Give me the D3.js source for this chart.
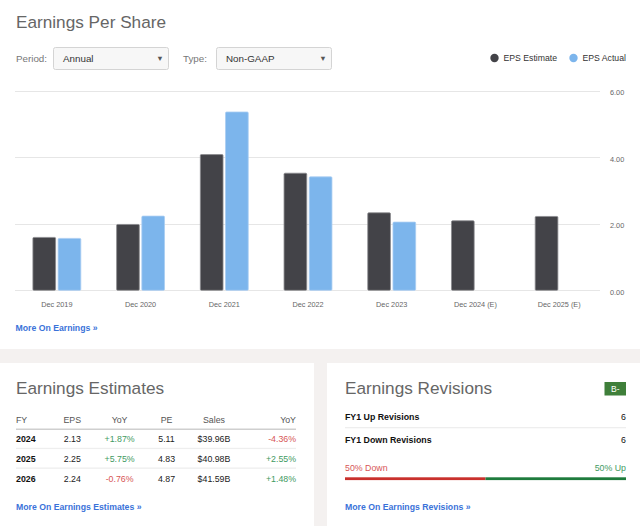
<!DOCTYPE html>
<html>
<head>
<meta charset="utf-8">
<script src="https://cdn.jsdelivr.net/npm/d3@7"></script>
<style>
	body { margin: 0; background: #f4f1f0; }
	svg { display: block; font-family: "Liberation Sans", Arial, sans-serif; }
</style>
</head>
<body>
<div id="page"></div>
<script>
// chart data
const categories = ['Dec 2019', 'Dec 2020', 'Dec 2021', 'Dec 2022', 'Dec 2023', 'Dec 2024 (E)', 'Dec 2025 (E)'];
const epsEstimate = [1.59, 1.98, 4.08, 3.52, 2.33, 2.09, 2.22];
const epsActual = [1.56, 2.23, 5.36, 3.41, 2.05, null, null];
const yTicks = [0, 2, 4, 6];

// estimates table
const estHeaders = ['FY', 'EPS', 'YoY', 'PE', 'Sales', 'YoY'];
const estYears = ['2024', '2025', '2026'];
const estEps = ['2.13', '2.25', '2.24'];
const estEpsYoy = ['+1.87%', '+5.75%', '-0.76%'];
const estPe = ['5.11', '4.83', '4.87'];
const estSales = ['$39.96B', '$40.98B', '$41.59B'];
const estSalesYoy = ['-4.36%', '+2.55%', '+1.48%'];

// revisions
const revisionLabels = ['FY1 Up Revisions', 'FY1 Down Revisions'];
const revisionCounts = [6, 6];
const revisionShare = [50, 50]; // down, up

(() => {
	const W = 640, H = 526;
	const svg = d3.select('#page').append('svg')
		.attr('width', W)
		.attr('height', H);

	const green = '#3f9a62', red = '#d75656', link = '#3a72d9';

	// cards
	svg.append('rect').attr('width', W).attr('height', H).attr('fill', '#f4f1f0');
	svg.append('rect').attr('x', 0).attr('y', 0).attr('width', W).attr('height', 349).attr('fill', '#fff');
	svg.append('rect').attr('x', 0).attr('y', 363).attr('width', 314).attr('height', H - 363).attr('fill', '#fff');
	svg.append('rect').attr('x', 327).attr('y', 363).attr('width', W - 327).attr('height', H - 363).attr('fill', '#fff');

	const title = (x, y, t) => svg.append('text')
		.attr('x', x).attr('y', y)
		.attr('font-size', 17.2)
		.attr('fill', '#666')
		.text(t);

	title(16, 28, 'Earnings Per Share');

	// dropdowns
	const dropdown = (lx, label, bx, bw, value) => {
		svg.append('text').attr('x', lx).attr('y', 61.5)
			.attr('font-size', 9.8).attr('fill', '#777').text(label);
		svg.append('rect').attr('x', bx + 0.5).attr('y', 47.5)
			.attr('width', bw).attr('height', 22).attr('rx', 2)
			.attr('fill', '#f7f7f7').attr('stroke', '#d4d4d4');
		svg.append('text').attr('x', bx + 10).attr('y', 61.5)
			.attr('font-size', 9.8).attr('fill', '#333').text(value);
		svg.append('text').attr('x', bx + bw - 8).attr('y', 61)
			.attr('text-anchor', 'middle').attr('font-size', 7.5)
			.attr('fill', '#555').text('▼');
	};
	dropdown(16, 'Period:', 53, 115, 'Annual');
	dropdown(183, 'Type:', 216, 115, 'Non-GAAP');

	// legend
	const legend = [
		{ name: 'EPS Estimate', color: '#434348', x: 494.5 },
		{ name: 'EPS Actual', color: '#7cb5ec', x: 573.5 }
	];
	legend.forEach(l => {
		svg.append('circle').attr('cx', l.x).attr('cy', 58).attr('r', 4.2).attr('fill', l.color);
		svg.append('text').attr('x', l.x + 9).attr('y', 61)
			.attr('font-size', 8.7).attr('fill', '#333').text(l.name);
	});

	// scales
	const x0 = d3.scaleBand().domain(categories).range([15, 601]);
	const x1 = d3.scaleBand().domain(['est', 'act'])
		.range([0, x0.bandwidth()])
		.paddingInner(0.1)
		.paddingOuter(0.71);
	const y = d3.scaleLinear().domain([0, 6]).range([290.3, 90.7]);

	const chart = svg.append('g');

	// grid + y labels
	chart.selectAll('.grid')
		.data(yTicks)
		.enter().append('line')
			.attr('x1', 15).attr('x2', 600)
			.attr('y1', d => Math.round(y(d)) + 0.5)
			.attr('y2', d => Math.round(y(d)) + 0.5)
			.attr('stroke', '#e6e6e6');
	chart.selectAll('.ylab')
		.data(yTicks)
		.enter().append('text')
			.attr('x', 610)
			.attr('y', d => y(d) + 4.5)
			.attr('font-size', 7.3)
			.attr('fill', '#666')
			.text(d => d3.format('.2f')(d));

	// bars
	const rows = categories.map((c, i) => ({ cat: c, est: epsEstimate[i], act: epsActual[i] }));
	const series = [
		{ key: 'est', color: '#434348', stroke: '#8a8a8e' },
		{ key: 'act', color: '#7cb5ec', stroke: '#a9cdf2' }
	];
	series.forEach(s => {
		chart.selectAll('.bar-' + s.key)
			.data(rows.filter(d => d[s.key] != null))
			.enter().append('rect')
				.attr('class', 'bar-' + s.key)
				.attr('x', d => x0(d.cat) + x1(s.key))
				.attr('y', d => y(d[s.key]))
				.attr('width', x1.bandwidth())
				.attr('height', d => y(0) - y(d[s.key]))
				.attr('rx', 1)
				.attr('fill', s.color)
				.attr('stroke', s.stroke)
				.attr('stroke-width', 0.8);
	});

	// x labels
	const xAxis = d3.axisBottom(x0).tickSize(0).tickPadding(0);
	const xg = chart.append('g')
		.attr('transform', 'translate(0, 302)')
		.call(xAxis);
	xg.select('.domain').remove();
	xg.selectAll('text')
		.attr('font-size', 7.3)
		.attr('font-family', '"Liberation Sans", Arial, sans-serif')
		.attr('fill', '#666');

	const linkText = (x, y, t) => svg.append('text')
		.attr('x', x).attr('y', y)
		.attr('font-size', 8.7)
		.attr('font-weight', 'bold')
		.attr('fill', link)
		.text(t);

	linkText(15.5, 331, 'More On Earnings »');

	// earnings estimates table
	title(16, 393.5, 'Earnings Estimates');
	const cols = [
		{ x: 16, anchor: 'start' },
		{ x: 72.3, anchor: 'middle' },
		{ x: 119.6, anchor: 'middle' },
		{ x: 166.5, anchor: 'middle' },
		{ x: 214, anchor: 'middle' },
		{ x: 296, anchor: 'end' }
	];
	estHeaders.forEach((h, i) => {
		svg.append('text')
			.attr('x', cols[i].x).attr('y', 423.3)
			.attr('text-anchor', cols[i].anchor)
			.attr('font-size', 8.8).attr('fill', '#555')
			.text(h);
	});
	svg.append('rect').attr('x', 16).attr('y', 428.5).attr('width', 280).attr('height', 1.5).attr('fill', '#cfcfcf');
	const rowY = [442.3, 462, 481.5];
	const signColor = v => v.startsWith('-') ? red : green;
	estYears.forEach((yr, r) => {
		const cells = [
			{ t: yr, bold: true, fill: '#111' },
			{ t: estEps[r], fill: '#222' },
			{ t: estEpsYoy[r], fill: signColor(estEpsYoy[r]) },
			{ t: estPe[r], fill: '#222' },
			{ t: estSales[r], fill: '#222' },
			{ t: estSalesYoy[r], fill: signColor(estSalesYoy[r]) }
		];
		cells.forEach((c, i) => {
			svg.append('text')
				.attr('x', cols[i].x).attr('y', rowY[r])
				.attr('text-anchor', cols[i].anchor)
				.attr('font-size', 8.8)
				.attr('font-weight', c.bold ? 'bold' : 'normal')
				.attr('fill', c.fill)
				.text(c.t);
		});
		if (r < estYears.length - 1) {
			svg.append('rect').attr('x', 16).attr('y', rowY[r] + 5.5)
				.attr('width', 280).attr('height', 1.3).attr('fill', '#eeeeee');
		}
	});
	linkText(16, 510, 'More On Earnings Estimates »');

	// earnings revisions
	title(345, 393.5, 'Earnings Revisions');
	svg.append('rect').attr('x', 604.5).attr('y', 382).attr('width', 21.5).attr('height', 13.5).attr('fill', '#3f7f3a');
	svg.append('text').attr('x', 615.3).attr('y', 392)
		.attr('text-anchor', 'middle').attr('font-size', 8.5).attr('fill', '#fff').text('B-');

	const revY = [419.8, 442.5];
	revisionLabels.forEach((l, i) => {
		svg.append('text').attr('x', 345).attr('y', revY[i])
			.attr('font-size', 8.8).attr('font-weight', 'bold').attr('fill', '#111').text(l);
		svg.append('text').attr('x', 626).attr('y', revY[i])
			.attr('text-anchor', 'end').attr('font-size', 8.8).attr('fill', '#111').text(revisionCounts[i]);
	});
	svg.append('rect').attr('x', 345).attr('y', 427).attr('width', 281).attr('height', 1.3).attr('fill', '#eeeeee');

	svg.append('text').attr('x', 345).attr('y', 470.8)
		.attr('font-size', 8.8).attr('fill', red).text(`${revisionShare[0]}% Down`);
	svg.append('text').attr('x', 626).attr('y', 470.8)
		.attr('text-anchor', 'end').attr('font-size', 8.8).attr('fill', green).text(`${revisionShare[1]}% Up`);

	const share = d3.scaleLinear().domain([0, 100]).range([345, 626]);
	svg.append('rect').attr('x', share(0)).attr('y', 477.3)
		.attr('width', share(revisionShare[0]) - share(0)).attr('height', 2.8).attr('fill', '#c9302c');
	svg.append('rect').attr('x', share(revisionShare[0])).attr('y', 477.3)
		.attr('width', share(100) - share(revisionShare[0])).attr('height', 2.8).attr('fill', '#1e7b3c');

	linkText(345, 510, 'More On Earnings Revisions »');
})();
</script>
</body>
</html>
